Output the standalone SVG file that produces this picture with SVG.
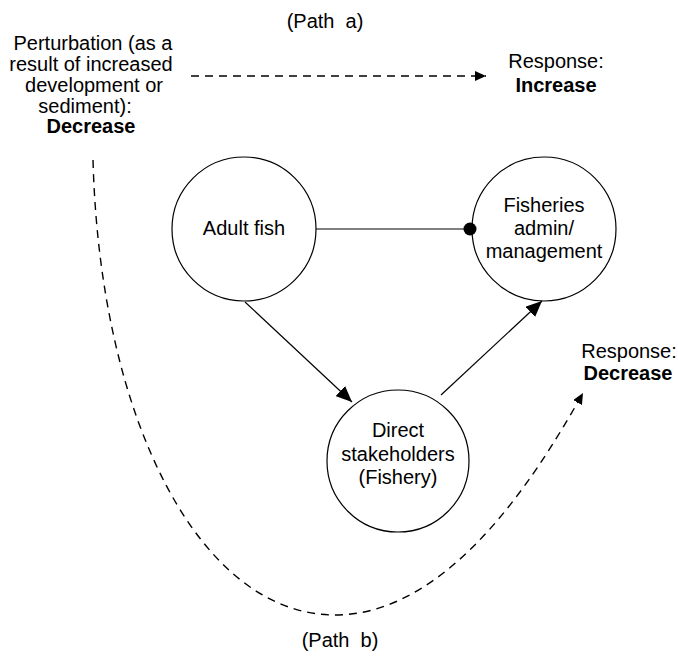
<svg xmlns="http://www.w3.org/2000/svg" width="678" height="659" viewBox="0 0 678 659">
<defs>
<style>
text{font-family:"Liberation Sans",Arial,sans-serif;font-size:20px;fill:#000;text-anchor:middle;white-space:pre}
.b{font-weight:bold}
.node{fill:none;stroke:#000;stroke-width:1.2}
.ln{fill:none;stroke:#000;stroke-width:1.2}
.dash{fill:none;stroke:#000;stroke-width:1.4;stroke-dasharray:8,6}
</style>
<marker id="big" markerUnits="userSpaceOnUse" markerWidth="18" markerHeight="14" refX="16" refY="7" orient="auto"><path d="M0,0 L16,7 L0,14 Z" fill="#000"/></marker>
<marker id="small" markerUnits="userSpaceOnUse" markerWidth="12" markerHeight="10" refX="11" refY="5" orient="auto"><path d="M0,0 L11,5 L0,10 Z" fill="#000"/></marker>
<marker id="dot" markerUnits="userSpaceOnUse" markerWidth="16" markerHeight="16" refX="8" refY="8" orient="auto"><circle cx="8" cy="8" r="6.5" fill="#000"/></marker>
</defs>
<g id="adult-fish">
<circle class="node" cx="244" cy="229" r="72"/>
<text x="244" y="235">Adult fish</text>
</g>
<g id="fisheries-admin">
<circle class="node" cx="544" cy="229" r="72"/>
<text x="544" y="212">Fisheries</text>
<text x="544" y="235">admin/</text>
<text x="544" y="258">management</text>
</g>
<g id="direct-stakeholders">
<circle class="node" cx="398" cy="461" r="71"/>
<text x="398" y="437">Direct</text>
<text x="398" y="461">stakeholders</text>
<text x="398" y="484">(Fishery)</text>
</g>
<g id="perturbation">
<text x="93" y="50">Perturbation (as a</text>
<text x="91" y="71">result of increased</text>
<text x="94" y="92">development or</text>
<text x="85" y="113">sediment):</text>
<text class="b" x="91" y="133">Decrease</text>
</g>
<g id="path-a">
<text x="325" y="28" xml:space="preserve">(Path  a)</text>
</g>
<g id="response-increase">
<text x="556" y="68">Response:</text>
<text class="b" x="556" y="92">Increase</text>
</g>
<g id="response-decrease">
<text x="629" y="358">Response:</text>
<text class="b" x="628" y="380">Decrease</text>
</g>
<g id="path-b">
<text x="340" y="647" xml:space="preserve">(Path  b)</text>
</g>
<g id="connectors">
<line class="ln" x1="316" y1="229" x2="470" y2="229" marker-end="url(#dot)"/>
<line class="ln" x1="245" y1="302" x2="352" y2="402" marker-end="url(#big)"/>
<line class="ln" x1="441" y1="395" x2="542" y2="301" marker-end="url(#big)"/>
<line class="dash" x1="191" y1="76" x2="486" y2="76" marker-end="url(#small)"/>
<path class="dash" d="M93,160 C100,420 200,615 335,615 C455,615 545,460 583,393" marker-end="url(#small)"/>
</g>
</svg>
